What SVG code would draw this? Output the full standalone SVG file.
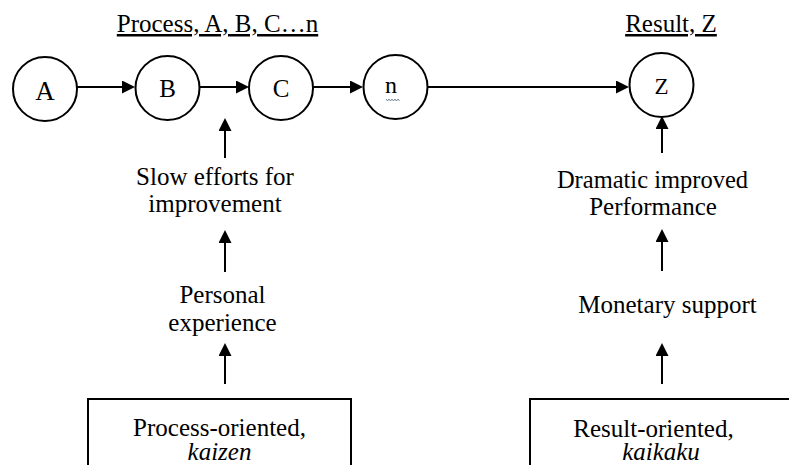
<svg xmlns="http://www.w3.org/2000/svg" width="789" height="465" viewBox="0 0 789 465">
  <defs>
    <marker id="head" markerUnits="userSpaceOnUse" markerWidth="13" markerHeight="13" refX="11" refY="6.5" orient="auto">
      <path d="M0,0 L13,6.5 L0,13 Z" fill="#000"/>
    </marker>
    <style>
      text { font-family: 'Liberation Serif', 'Times New Roman', serif; font-size: 25px; fill: #000; text-anchor: middle; }
      .title { text-decoration: underline; }
      .em { font-style: italic; }
      .node { fill: #fff; stroke: #000; stroke-width: 2; }
      .box { fill: none; stroke: #000; stroke-width: 2; }
      .link { fill: none; stroke: #000; stroke-width: 2; marker-end: url(#head); }
      .squiggle { fill: none; stroke: #7a8aa0; stroke-width: 1; }
    </style>
  </defs>

  <rect width="789" height="465" fill="#fff"/>

  <!-- headings -->
  <g id="heading-process">
    <text class="title" x="217.5" y="32">Process, A, B, C…n</text>
  </g>
  <g id="heading-result">
    <text class="title" x="671" y="32">Result, Z</text>
  </g>

  <!-- connectors -->
  <g id="connectors">
    <path class="link" d="M77,87 H133"/>
    <path class="link" d="M200,87 H247"/>
    <path class="link" d="M313,87 H361"/>
    <path class="link" d="M428,87 H627"/>
    <!-- kaizen column -->
    <path class="link" d="M225,158 V120"/>
    <path class="link" d="M225,272 V232"/>
    <path class="link" d="M225,384 V345"/>
    <!-- kaikaku column -->
    <path class="link" d="M662,153 V118"/>
    <path class="link" d="M662,271 V231"/>
    <path class="link" d="M662,384 V345"/>
  </g>

  <!-- process chain -->
  <g id="node-a">
    <circle class="node" cx="45" cy="89" r="32"/>
    <text x="45" y="100" style="font-size:27px">A</text>
  </g>
  <g id="node-b">
    <circle class="node" cx="167.5" cy="88" r="32"/>
    <text x="167.5" y="97">B</text>
  </g>
  <g id="node-c">
    <circle class="node" cx="281" cy="88" r="32"/>
    <text x="281" y="97">C</text>
  </g>
  <g id="node-n">
    <circle class="node" cx="395.5" cy="87" r="32"/>
    <text x="391" y="93" style="font-size:24px">n</text>
    <polyline class="squiggle" points="386,99 387.5,101 389,99 390.5,101 392,99 393.5,101 395,99 396.5,101 398,99 399.5,101"/>
  </g>
  <g id="node-z">
    <circle class="node" cx="661.5" cy="85" r="32"/>
    <text x="661.5" y="94" style="font-size:23px">Z</text>
  </g>

  <!-- kaizen column -->
  <g id="node-slow-efforts">
    <text x="215" y="185">Slow efforts for</text>
    <text x="215" y="212">improvement</text>
  </g>
  <g id="node-personal-experience">
    <text x="222.5" y="303">Personal</text>
    <text x="222.5" y="331">experience</text>
  </g>
  <g id="node-process-oriented">
    <path class="box" d="M88,466 V399 H351 V466"/>
    <text x="219.5" y="436">Process-oriented,</text>
    <text class="em" x="219.5" y="460">kaizen</text>
  </g>

  <!-- kaikaku column -->
  <g id="node-dramatic">
    <text x="652.5" y="188" style="font-size:24.5px">Dramatic improved</text>
    <text x="653" y="215">Performance</text>
  </g>
  <g id="node-monetary">
    <text x="667.5" y="313">Monetary support</text>
  </g>
  <g id="node-result-oriented">
    <path class="box" d="M530,466 V399 H790"/>
    <text x="653.5" y="437">Result-oriented,</text>
    <text class="em" x="661" y="460">kaikaku</text>
  </g>
</svg>
